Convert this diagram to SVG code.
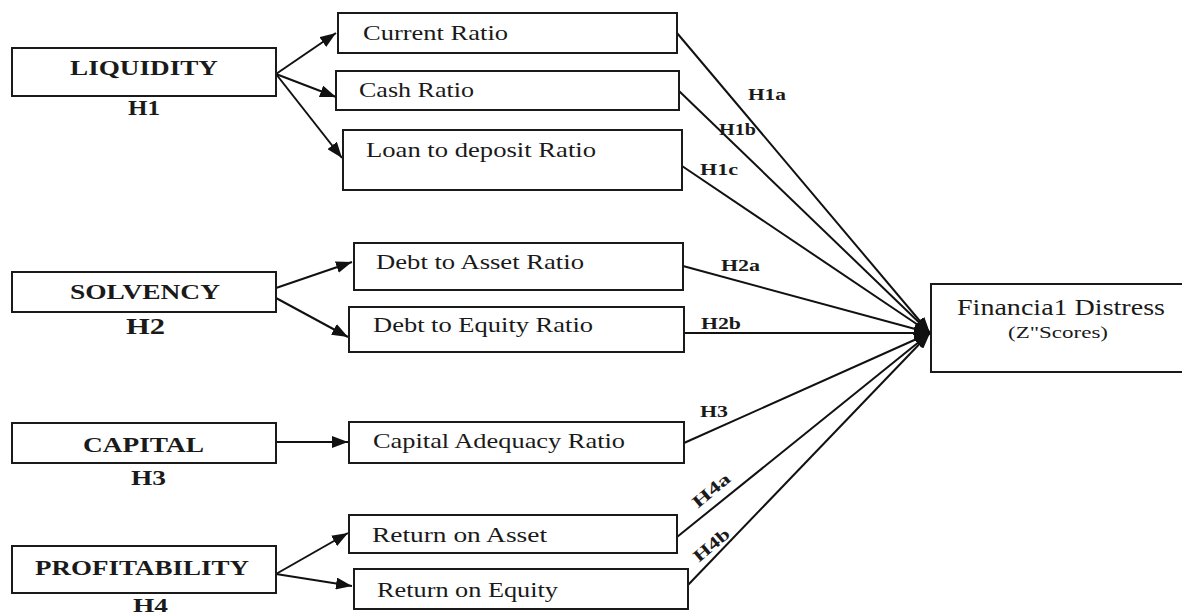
<svg xmlns="http://www.w3.org/2000/svg" width="1182" height="615" viewBox="0 0 1182 615">
<style>
  .box { fill: #ffffff; stroke: #1a1a1a; stroke-width: 2; }
  .lbl { font-family: "Liberation Serif", "Times New Roman", serif; font-size: 22px; fill: #1a1a1a; }
  .big { font-family: "Liberation Serif", "Times New Roman", serif; font-size: 22px; font-weight: bold; fill: #1a1a1a; }
  .h { font-family: "Liberation Serif", "Times New Roman", serif; font-size: 17px; font-weight: bold; fill: #1a1a1a; }
  .hl { font-family: "Liberation Serif", "Times New Roman", serif; font-size: 22px; font-weight: bold; fill: #1a1a1a; }
  .con { stroke: #111111; stroke-width: 2; fill: none; marker-end: url(#arr); }
</style>
<defs>
  <marker id="arr" viewBox="0 0 16 12" refX="16" refY="6" markerWidth="16" markerHeight="12" markerUnits="userSpaceOnUse" orient="auto">
    <path d="M0,0 L16,6 L0,12 z" fill="#111111"/>
  </marker>
</defs>
<rect x="0" y="0" width="1182" height="615" fill="#ffffff"/>

<g id="connectors">
  <line class="con" x1="276" y1="74" x2="336" y2="33"/>
  <line class="con" x1="276" y1="74" x2="336" y2="97"/>
  <line class="con" x1="276" y1="74" x2="342" y2="158"/>
  <line class="con" x1="276" y1="288" x2="352" y2="262"/>
  <line class="con" x1="276" y1="298" x2="348" y2="337"/>
  <line class="con" x1="276" y1="442" x2="348" y2="442"/>
  <line class="con" x1="276" y1="574" x2="348" y2="533"/>
  <line class="con" x1="276" y1="574" x2="352" y2="586"/>

  <line class="con" x1="677" y1="33" x2="930" y2="333"/>
  <line class="con" x1="679" y1="91" x2="930" y2="333"/>
  <line class="con" x1="682" y1="166" x2="930" y2="333"/>
  <line class="con" x1="683" y1="266" x2="930" y2="333"/>
  <line class="con" x1="684" y1="333" x2="930" y2="333"/>
  <line class="con" x1="684" y1="443" x2="930" y2="333"/>
  <line class="con" x1="677" y1="537" x2="930" y2="333"/>
  <line class="con" x1="688" y1="585" x2="930" y2="333"/>

  <text class="h" x="748" y="100" textLength="38" lengthAdjust="spacingAndGlyphs">H1a</text>
  <text class="h" x="719" y="135" textLength="37" lengthAdjust="spacingAndGlyphs">H1b</text>
  <text class="h" x="700" y="175" textLength="38" lengthAdjust="spacingAndGlyphs">H1c</text>
  <text class="h" x="721" y="271" textLength="39" lengthAdjust="spacingAndGlyphs">H2a</text>
  <text class="h" x="701" y="329" textLength="40" lengthAdjust="spacingAndGlyphs">H2b</text>
  <text class="h" x="700" y="417" textLength="28" lengthAdjust="spacingAndGlyphs">H3</text>
  <text class="h" x="-22" y="6" textLength="44" lengthAdjust="spacingAndGlyphs" transform="translate(711,490) rotate(-40)">H4a</text>
  <text class="h" x="-22" y="6" textLength="42" lengthAdjust="spacingAndGlyphs" transform="translate(712,544) rotate(-40)">H4b</text>
</g>

<g id="liquidity">
  <rect class="box" x="12" y="48" width="264" height="48"/>
  <text class="big" x="70" y="75" textLength="148" lengthAdjust="spacingAndGlyphs">LIQUIDITY</text>
  <text class="hl" x="128" y="115" style="font-size:20px" textLength="32" lengthAdjust="spacingAndGlyphs">H1</text>
</g>
<g id="solvency">
  <rect class="box" x="12" y="272" width="264" height="40"/>
  <text class="big" x="70" y="299" textLength="150" lengthAdjust="spacingAndGlyphs">SOLVENCY</text>
  <text class="hl" x="126" y="334" style="font-size:24px" textLength="39" lengthAdjust="spacingAndGlyphs">H2</text>
</g>
<g id="capital">
  <rect class="box" x="12" y="423" width="264" height="40"/>
  <text class="big" x="83" y="452" textLength="121" lengthAdjust="spacingAndGlyphs">CAPITAL</text>
  <text class="hl" x="131" y="485" style="font-size:22px" textLength="35" lengthAdjust="spacingAndGlyphs">H3</text>
</g>
<g id="profitability">
  <rect class="box" x="12" y="546" width="264" height="47"/>
  <text class="big" x="35" y="575" textLength="214" lengthAdjust="spacingAndGlyphs">PROFITABILITY</text>
  <text class="hl" x="133" y="612" style="font-size:19px" textLength="35" lengthAdjust="spacingAndGlyphs">H4</text>
</g>

<g id="current-ratio">
  <rect class="box" x="338" y="13" width="339" height="40"/>
  <text class="lbl" x="363" y="40" textLength="145" lengthAdjust="spacingAndGlyphs">Current Ratio</text>
</g>
<g id="cash-ratio">
  <rect class="box" x="336" y="71" width="343" height="39"/>
  <text class="lbl" x="359" y="97" textLength="115" lengthAdjust="spacingAndGlyphs">Cash Ratio</text>
</g>
<g id="loan-to-deposit-ratio">
  <rect class="box" x="343" y="130" width="339" height="60"/>
  <text class="lbl" x="366" y="157" textLength="230" lengthAdjust="spacingAndGlyphs">Loan to deposit Ratio</text>
</g>
<g id="debt-to-asset-ratio">
  <rect class="box" x="354" y="243" width="329" height="47"/>
  <text class="lbl" x="376" y="269" textLength="208" lengthAdjust="spacingAndGlyphs">Debt to Asset Ratio</text>
</g>
<g id="debt-to-equity-ratio">
  <rect class="box" x="349" y="307" width="335" height="45"/>
  <text class="lbl" x="373" y="332" textLength="220" lengthAdjust="spacingAndGlyphs">Debt to Equity Ratio</text>
</g>
<g id="capital-adequacy-ratio">
  <rect class="box" x="349" y="422" width="335" height="41"/>
  <text class="lbl" x="373" y="448" textLength="252" lengthAdjust="spacingAndGlyphs">Capital Adequacy Ratio</text>
</g>
<g id="return-on-asset">
  <rect class="box" x="349" y="515" width="328" height="38"/>
  <text class="lbl" x="372" y="542" textLength="175" lengthAdjust="spacingAndGlyphs">Return on Asset</text>
</g>
<g id="return-on-equity">
  <rect class="box" x="354" y="569" width="334" height="40"/>
  <text class="lbl" x="377" y="597" textLength="181" lengthAdjust="spacingAndGlyphs">Return on Equity</text>
</g>

<g id="financial-distress">
  <rect class="box" x="931" y="284" width="252" height="88"/>
  <text class="lbl" x="957" y="315" style="font-size:23px" textLength="208" lengthAdjust="spacingAndGlyphs">Financia1 Distress</text>
  <text class="lbl" x="1008" y="338" style="font-size:16px" textLength="100" lengthAdjust="spacingAndGlyphs">(Z"Scores)</text>
</g>
</svg>
